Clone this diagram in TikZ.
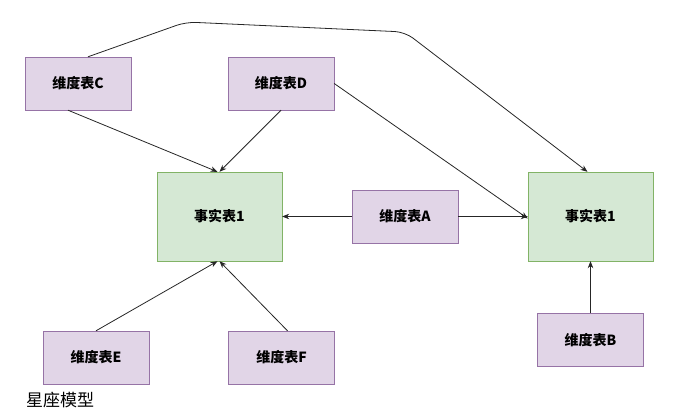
\documentclass[tikz,border=0pt]{standalone}
\usepackage{fontspec}
\newfontfamily\cjk{Noto Sans CJK SC}
\usetikzlibrary{arrows.meta}
\definecolor{dimfill}{HTML}{E1D5E7}
\definecolor{dimline}{HTML}{9673A6}
\definecolor{factfill}{HTML}{D5E8D4}
\definecolor{factline}{HTML}{82B366}
\tikzset{
  dimtable/.style={draw=dimline, fill=dimfill, minimum width=106pt, minimum height=53pt,
    font=\cjk\bfseries\fontsize{14}{16}\selectfont, inner sep=0pt},
  facttable/.style={draw=factline, fill=factfill, minimum width=125pt, minimum height=89pt,
    font=\cjk\bfseries\fontsize{14}{16}\selectfont, inner sep=0pt},
  link/.style={draw=black!85, line width=0.8pt, -{Stealth[length=7pt,width=5.5pt]}}
}
\begin{document}
\begin{tikzpicture}[x=1pt, y=-1pt]
  \useasboundingbox (0,0) rectangle (694,419);
  % Fact tables
  \node[facttable] (fact1) at (219.5,216.5) {事实表1};
  \node[facttable] (fact2) at (590.5,216.5) {事实表1};
  % Dimension tables
  \node[dimtable] (dimC) at (78,83.5) {维度表C};
  \node[dimtable] (dimD) at (281,83.5) {维度表D};
  \node[dimtable] (dimA) at (405,216.5) {维度表A};
  \node[dimtable] (dimB) at (590.5,340) {维度表B};
  \node[dimtable] (dimE) at (96,357.5) {维度表E};
  \node[dimtable] (dimF) at (281.5,357.5) {维度表F};
  % Caption
  \node[font=\cjk\fontsize{17}{20}\selectfont, anchor=west, inner sep=0pt] (caption) at (26,400) {星座模型};

  % Links to left fact table
  \draw[link] ([xshift=-10pt]dimC.south) -- ([xshift=-2pt]fact1.north);
  \draw[link] (dimD.south) -- (fact1.north);
  \draw[link] (dimA.west) -- (fact1.east);
  \draw[link] (dimE.north) -- ([xshift=-2pt]fact1.south);
  \draw[link] ([xshift=6pt]dimF.north) -- (fact1.south);

  % Links to right fact table
  \coordinate (bendL) at (186,22);
  \coordinate (bendR) at (405,32);
  \draw[link, rounded corners=10pt] ([xshift=10pt]dimC.north) -- (bendL) -- (bendR) -- ([xshift=-3pt]fact2.north);
  \draw[link] (dimD.east) -- ([yshift=-2pt]fact2.west);
  \draw[link] (dimA.east) -- (fact2.west);
  \draw[link] (dimB.north) -- (fact2.south);
\end{tikzpicture}
\end{document}
